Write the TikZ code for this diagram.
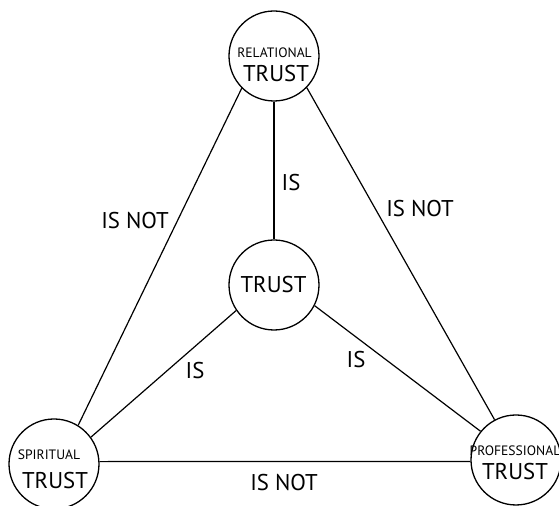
\documentclass[tikz,border=0pt]{standalone}
\usepackage{fontspec}
\setmainfont{PT Sans}
\usetikzlibrary{positioning}
\tikzset{
	trustcirc/.style={circle, draw, line width=0.65pt, minimum size=45pt, inner sep=0pt},
	bigtxt/.style={font=\fontsize{11.4}{13}\selectfont, inner sep=0pt},
	smalltxt/.style={font=\fontsize{6.8}{8}\selectfont, inner sep=0pt},
	link/.style={line width=0.6pt}
}
\begin{document}
\begin{tikzpicture}[x=0.5pt, y=-0.5pt]
		\useasboundingbox (0,0) rectangle (559,506);
			%circles
			\node[trustcirc] (rel) at (274,56) {};
			\node[trustcirc] (ctr) at (274,285) {};
			\node[trustcirc] (spi) at (54,464) {};
			\node[trustcirc] (pro) at (516,460) {};

			%texts in the circles
			\node[smalltxt] (rel-s) at (274.5,52.5) {RELATIONAL};
			\node[bigtxt, anchor=base] (rel-b) at (276,82) {TRUST};
			\node[bigtxt, anchor=base] (ctr-b) at (273.5,293) {TRUST};
			\node[smalltxt] (spi-s) at (49,455) {SPIRITUAL};
			\node[bigtxt, anchor=base] (spi-b) at (55,489) {TRUST};
			\node[smalltxt] (pro-s) at (515,451) {PROFESSIONAL};
			\node[bigtxt, anchor=base] (pro-b) at (515,480) {TRUST};

			%connectors
			\draw[link] (rel.225) -- (spi.58);
			\draw[link] (rel.316) -- (pro.118);
			\draw[link] (rel.270) -- (ctr.90);
			\draw[link] (spi.36) -- (ctr.214);
			\draw[link] (ctr.333) -- (pro.141);
			\draw[link] (spi.3) -- (pro.182);

			%labels
			\node[bigtxt] (l-rs) at (135,221) {IS NOT};
			\node[bigtxt] (l-rp) at (420,209) {IS NOT};
			\node[bigtxt] (l-rc) at (291,183) {IS};
			\node[bigtxt] (l-sc) at (195,371) {IS};
			\node[bigtxt] (l-cp) at (356,360) {IS};
			\node[bigtxt] (l-sp) at (284,483) {IS NOT};
	\end{tikzpicture}
\end{document}
